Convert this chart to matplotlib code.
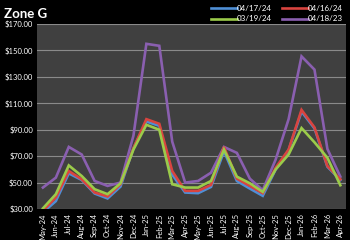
import matplotlib
matplotlib.use('Agg')
import matplotlib.pyplot as plt
import numpy as np

months = ['May-24', 'Jun-24', 'Jul-24', 'Aug-24', 'Sep-24', 'Oct-24', 'Nov-24', 'Dec-24',
          'Jan-25', 'Feb-25', 'Mar-25', 'Apr-25', 'May-25', 'Jun-25', 'Jul-25', 'Aug-25',
          'Sep-25', 'Oct-25', 'Nov-25', 'Dec-25', 'Jan-26', 'Feb-26', 'Mar-26', 'Apr-26']

# Forward curves ($/MWh) by trade date
curve_041724 = [27.5, 36, 57, 52, 41.75, 38, 47, 76, 96.25, 93, 56, 42.5,
                42, 46.75, 73.75, 51.25, 45.5, 40, 60, 74.5, 103.75, 91, 62, 52]
curve_041624 = [28.75, 38.75, 58.75, 52.5, 42.5, 39.5, 48.75, 76, 98, 94.5, 58.75, 43.75,
                43.75, 48.25, 77, 53, 47.5, 42, 61.25, 75, 105, 91.75, 62.5, 52.5]
curve_031924 = [30.5, 41.25, 63, 55, 45, 41.25, 49.5, 75, 93.75, 90, 48.75, 46.25,
                46.25, 51.25, 75, 54.5, 49.5, 43, 60, 71.25, 91.25, 80.5, 68.75, 48]
curve_041823 = [46.25, 53.75, 77, 71.25, 51.25, 47.5, 50, 85.5, 155, 153.5, 81, 50,
                51.25, 57.5, 77, 72.5, 53, 44.25, 67.5, 98, 145.5, 135.5, 75.5, 54.5]

series = [
    ('04/17/24', curve_041724, '#4F8FD6'),
    ('04/16/24', curve_041624, '#D9443F'),
    ('03/19/24', curve_031924, '#9BCB4A'),
    ('04/18/23', curve_041823, '#8A5FB0'),
]


def plot_zone():
    plt.rcParams['font.family'] = ['Lato', 'DejaVu Sans']

    fig = plt.figure(figsize=(3.5, 2.4), dpi=100, facecolor='black')
    ax = fig.add_axes([0.106, 0.129, 0.883, 0.771])
    ax.set_facecolor('#404040')

    x = np.arange(len(months))
    lines = {}
    # purple underneath, the rest on top
    for idx in [3, 0, 1, 2]:
        label, vals, color = series[idx]
        lines[label], = ax.plot(x, vals, color=color, linewidth=1.9, label=label,
                                solid_joinstyle='miter', zorder=3)

    ax.set_ylim(30, 170)
    ax.set_xlim(-0.45, len(months) - 0.55)
    ax.set_yticks(np.arange(30, 171, 20))
    ax.set_yticklabels([f'${v:.2f}' for v in np.arange(30, 171, 20)])
    ax.set_xticks(x)
    ax.set_xticklabels(months, rotation=90)
    ax.tick_params(colors='white', labelsize=5.5, length=0, pad=3)
    ax.yaxis.grid(True, color='#8a8a8a', linewidth=0.8)
    ax.set_axisbelow(True)
    for s in ax.spines.values():
        s.set_visible(False)

    fig.text(0.01, 0.942, 'Zone G', color='white', fontsize=9.5, fontweight='bold',
             va='center', ha='left')

    handles = [lines['04/17/24'], lines['03/19/24'], lines['04/16/24'], lines['04/18/23']]
    fig.legend(handles=handles, labels=[h.get_label() for h in handles], ncol=2,
               loc='upper right', bbox_to_anchor=(1.0, 1.01), frameon=False,
               fontsize=5.8, handlelength=3.2, handletextpad=0.0,
               columnspacing=1.2, labelspacing=0.45, labelcolor='white')

    fig.savefig('out.png', dpi=100, facecolor='black')


if __name__ == '__main__':
    plot_zone()
